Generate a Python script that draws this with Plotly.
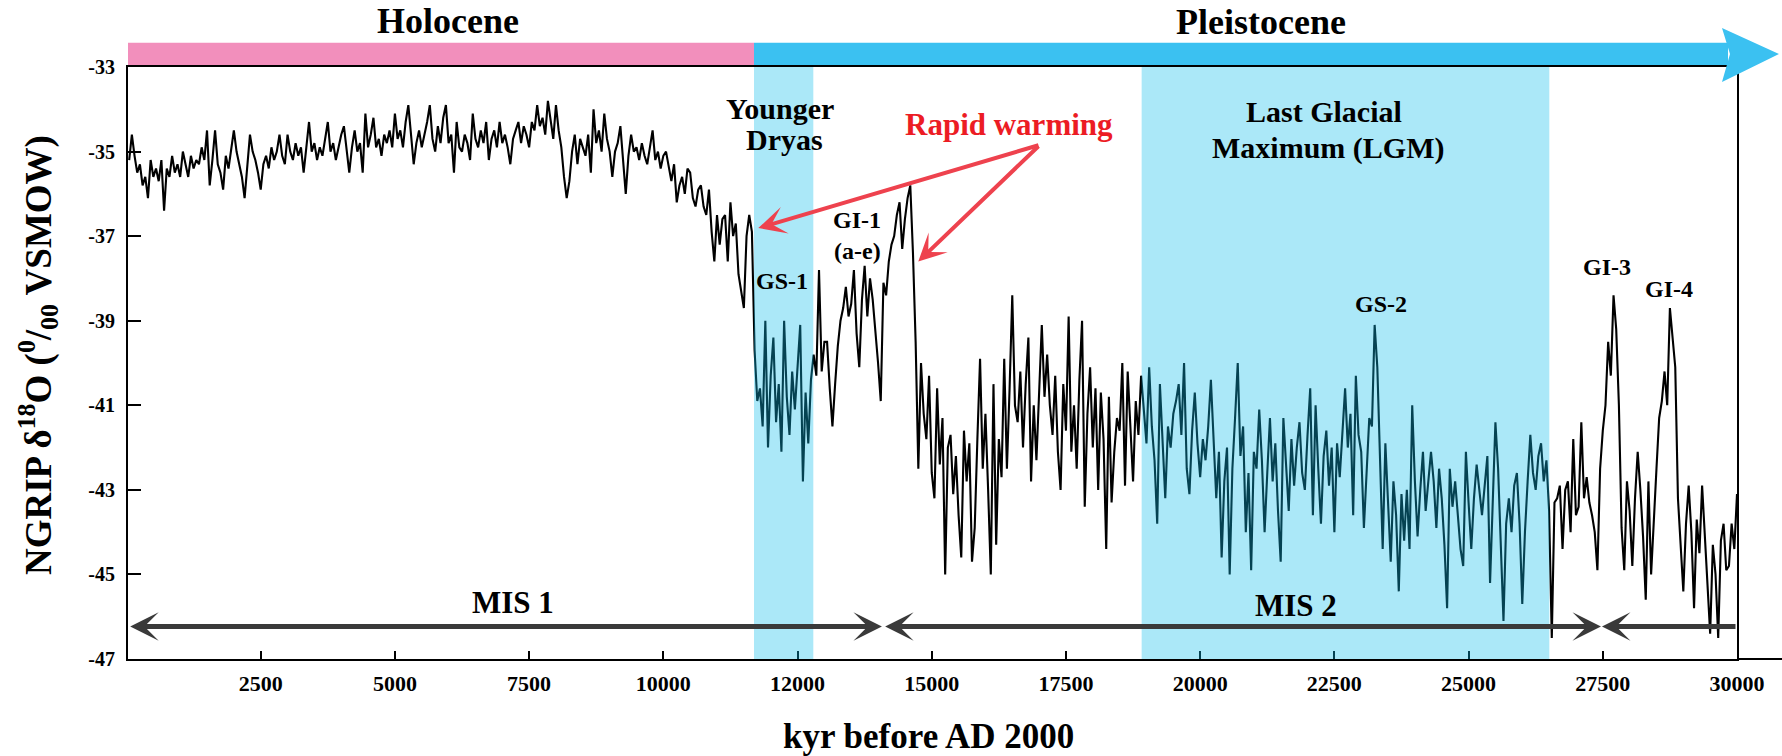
import plotly.graph_objects as go

# ---------------- data ----------------
AGE_START = 50      # years before AD 2000
AGE_STEP = 50

d18o_0_5k = [
    -35.2, -34.6, -35.1, -35.5, -35.3, -35.8, -35.6, -36.1, -35.2, -35.6, -35.4, -35.7, -35.2, -36.4, -35.4, -35.6, -35.1, -35.5, -35.3, -35.6,
    -35.0, -35.3, -35.6, -35.1, -35.4, -35.2, -35.3, -34.9, -35.2, -34.5, -35.8, -35.2, -34.5, -35.3, -35.5, -35.9, -35.1, -35.4, -34.9, -34.5,
    -35.0, -35.3, -35.6, -36.1, -35.4, -34.6, -35.0, -35.2, -35.5, -35.9, -35.3, -35.1, -35.4, -34.9, -35.2, -35.0, -34.6, -35.1, -35.3, -34.6,
    -35.0, -35.2, -34.8, -35.1, -34.9, -35.5, -34.9, -34.3, -35.0, -34.8, -35.2, -34.9, -35.1, -34.7, -34.3, -35.0, -34.8, -35.2, -34.9, -34.6,
    -34.4, -35.0, -35.5, -34.9, -34.5, -35.0, -34.8, -35.5, -34.1, -34.9, -34.6, -34.2, -34.9, -34.7, -35.1, -34.6, -34.8, -34.5, -34.9, -34.1,
]
d18o_5_10k = [
    -34.7, -34.5, -34.9, -34.3, -33.9, -34.6, -35.3, -34.8, -34.5, -34.9, -34.6, -34.3, -33.9, -34.7, -35.0, -34.4, -34.8, -34.2, -33.9, -34.8,
    -34.6, -35.5, -34.3, -34.9, -35.0, -34.6, -34.8, -35.2, -34.1, -34.7, -34.9, -34.5, -34.8, -34.3, -35.2, -34.7, -34.5, -34.9, -34.3, -34.8,
    -34.6, -34.9, -35.3, -34.7, -34.5, -34.3, -34.8, -34.4, -34.6, -34.9, -34.3, -34.5, -33.9, -34.4, -34.2, -34.6, -33.8, -34.3, -34.7, -33.9,
    -34.5, -34.9, -35.6, -36.1, -35.7, -35.0, -34.6, -35.3, -34.7, -34.9, -35.1, -34.6, -35.5, -34.0, -34.8, -34.5, -35.0, -34.1, -34.7, -35.0,
    -35.6, -35.0, -34.8, -34.4, -35.2, -36.0, -35.1, -34.6, -35.0, -34.9, -35.2, -34.8, -35.1, -35.3, -34.9, -34.5, -35.2, -35.0, -35.4, -35.1,
]
d18o_10_15k = [
    -35.0, -35.4, -35.7, -35.3, -36.2, -35.8, -35.6, -36.0, -35.4, -35.5, -36.1, -36.3, -35.9, -35.8, -36.3, -36.5, -35.9, -36.9, -37.6, -36.5,
    -37.2, -36.6, -36.5, -37.6, -36.2, -37.0, -36.7, -37.9, -38.3, -38.7, -37.0, -36.5, -36.9, -39.7, -40.9, -40.6, -41.5, -39.0, -42.0, -40.3,
    -39.4, -41.4, -40.5, -42.1, -39.0, -40.8, -41.7, -40.2, -41.1, -40.0, -39.1, -42.8, -40.7, -41.9, -40.4, -39.8, -40.3, -37.8, -40.2, -39.5,
    -39.5, -40.6, -41.5, -40.5, -39.6, -39.0, -38.7, -38.2, -38.9, -38.6, -37.8, -39.3, -40.1, -38.5, -37.7, -38.9, -38.0, -38.5, -39.2, -40.0,
    -40.9, -38.1, -38.4, -37.6, -37.2, -37.0, -36.5, -36.2, -37.3, -36.6, -36.1, -35.8, -37.4, -39.5, -42.5, -40.0, -41.2, -41.8, -40.3, -42.6,
]
d18o_15_20k = [
    -43.2, -40.6, -42.4, -41.3, -45.0, -42.0, -41.7, -43.1, -42.2, -43.6, -44.6, -41.6, -42.8, -41.9, -44.7, -43.9, -41.8, -39.9, -42.5, -41.2,
    -43.0, -45.0, -40.5, -44.3, -41.8, -42.7, -39.9, -42.5, -40.6, -38.4, -41.0, -41.4, -40.2, -42.0, -40.5, -39.4, -42.8, -41.0, -42.3, -40.6,
    -39.1, -40.8, -39.8, -41.0, -41.7, -40.3, -42.1, -43.0, -40.5, -41.6, -38.9, -42.1, -41.0, -42.5, -40.4, -39.0, -43.4, -41.2, -40.1, -42.0,
    -40.6, -43.0, -40.7, -41.8, -44.4, -40.8, -43.3, -42.1, -41.3, -41.6, -40.0, -42.9, -40.2, -41.5, -42.8, -40.9, -41.7, -40.3, -41.2, -41.9,
    -40.1, -41.5, -42.3, -43.8, -40.5, -41.8, -43.2, -41.5, -42.0, -41.2, -40.9, -40.5, -41.7, -40.0, -42.5, -43.1, -41.6, -40.7, -41.9, -42.7,
]
d18o_20_25k = [
    -41.8, -42.3, -41.5, -40.4, -42.0, -43.2, -42.1, -44.6, -42.8, -42.0, -45.0, -42.5, -41.3, -40.0, -42.2, -41.5, -44.0, -42.6, -44.9, -42.1,
    -42.5, -41.1, -42.3, -44.0, -42.6, -41.3, -42.8, -41.9, -43.5, -44.7, -41.3, -42.4, -43.5, -41.8, -42.9, -42.0, -41.4, -42.6, -43.0, -41.7,
    -40.6, -43.6, -41.0, -42.5, -43.8, -42.2, -41.6, -42.9, -42.0, -44.0, -41.9, -42.7, -41.5, -40.6, -42.0, -41.2, -43.6, -40.3, -41.7, -42.1,
    -43.9, -42.4, -41.3, -41.5, -39.1, -40.1, -42.6, -44.4, -41.9, -43.5, -44.7, -42.8, -43.6, -45.4, -43.1, -44.2, -43.0, -44.4, -41.0, -42.8,
    -44.1, -43.0, -42.1, -43.5, -42.7, -42.1, -42.8, -43.9, -42.5, -43.2, -44.3, -45.8, -42.5, -43.4, -42.8, -43.7, -44.4, -44.8, -42.1, -43.3,
]
d18o_25_30k = [
    -44.4, -43.2, -42.4, -43.0, -43.6, -42.9, -42.2, -45.2, -43.5, -41.4, -42.5, -44.4, -46.1, -43.8, -43.2, -44.0, -42.9, -42.6, -43.8, -45.7,
    -44.0, -42.8, -41.7, -42.6, -43.0, -42.2, -41.9, -42.8, -42.3, -43.5, -46.5, -43.3, -43.2, -42.9, -44.4, -43.0, -42.8, -44.0, -41.8, -43.6,
    -43.4, -41.4, -43.2, -42.7, -43.3, -43.6, -44.0, -44.9, -42.5, -41.6, -41.0, -39.5, -40.3, -38.4, -39.2, -41.0, -43.9, -44.9, -42.8, -43.5,
    -44.8, -43.2, -42.1, -43.0, -44.1, -45.6, -42.8, -45.0, -43.6, -42.5, -41.3, -40.9, -40.2, -41.0, -38.7, -39.4, -40.1, -43.2, -44.3, -45.4,
    -43.8, -42.9, -44.0, -45.8, -43.7, -44.5, -42.9, -44.0, -45.2, -46.4, -44.3, -45.0, -46.5, -44.2, -43.8, -44.9, -44.8, -43.8, -44.4, -43.1,
]

x_tickvals = [2500, 5000, 7500, 10000, 12500, 15000, 17500, 20000, 22500, 25000, 27500, 30000]
x_ticktext = ["2500", "5000", "7500", "10000", "12000", "15000", "17500", "20000", "22500", "25000", "27500", "30000"]
y_tickvals = [-33, -35, -37, -39, -41, -43, -45, -47]
y_ticktext = ["-33", "-35", "-37", "-39", "-41", "-43", "-45", "-47"]

younger_dryas = (11689, 12794)
lgm = (18910, 26504)
mis1 = (41, 14072)
mis2 = (14104, 27466)
mis3_start = (27485, 30000)
mis_level = -46.23
holocene_end = 11689

# ---------------- layout constants ----------------
W, H = 1782, 756
PL, PR, PT, PB = 128, 1737, 67, 659
X_RANGE = [28, 30000]
Y_RANGE = [-47, -33]
FONT = "Liberation Serif"


def pxx(px):
    return (px - PL) / (PR - PL)


def pxy(py):
    return (PB - py) / (PB - PT)


def xpaper(x):
    return (x - X_RANGE[0]) / (X_RANGE[1] - X_RANGE[0])


d18o = d18o_0_5k + d18o_5_10k + d18o_10_15k + d18o_15_20k + d18o_20_25k + d18o_25_30k
ages = [AGE_START + i * AGE_STEP for i in range(len(d18o))]

fig = go.Figure()
fig.add_trace(go.Scatter(x=ages, y=d18o, mode="lines",
                         line=dict(color="black", width=2.1), showlegend=False,
                         hoverinfo="x+y"))

shapes = []
# translucent bands over the record
for (a, b) in (younger_dryas, lgm):
    shapes.append(dict(type="rect", xref="x", yref="paper", x0=a, x1=b, y0=0, y1=1,
                       fillcolor="rgb(14,189,235)", opacity=0.35, line=dict(width=0),
                       layer="above"))

# top epoch bar: pink Holocene, blue Pleistocene arrow
bar_top, bar_bot = pxy(42.7), pxy(65)
shapes.append(dict(type="rect", xref="paper", yref="paper", x0=0, x1=xpaper(holocene_end),
                   y0=bar_bot, y1=bar_top, fillcolor="#F28FBC", line=dict(width=0)))
shapes.append(dict(type="rect", xref="paper", yref="paper", x0=xpaper(holocene_end), x1=pxx(1728),
                   y0=bar_bot, y1=bar_top, fillcolor="#3BC1F1", line=dict(width=0)))
head = "M {:.5f},{:.5f} L {:.5f},{:.5f} L {:.5f},{:.5f} L {:.5f},{:.5f} Z".format(
    pxx(1722), pxy(28), pxx(1779), pxy(54), pxx(1722), pxy(82), pxx(1730), pxy(54))
shapes.append(dict(type="path", xref="paper", yref="paper", path=head,
                   fillcolor="#3BC1F1", line=dict(width=0)))
# x axis line extending past the frame
shapes.append(dict(type="line", xref="paper", yref="paper", x0=1, x1=pxx(1782), y0=0, y1=0,
                   line=dict(color="black", width=2)))

annotations = []


def label(text, px, py, size, color="black", angle=0, bold=True):
    annotations.append(dict(text=("<b>%s</b>" % text) if bold else text,
                            x=pxx(px), y=pxy(py), xref="paper", yref="paper",
                            xanchor="center", yanchor="middle", showarrow=False,
                            textangle=angle,
                            font=dict(family=FONT, size=size, color=color)))


label("Holocene", 448, 21, 36)
label("Pleistocene", 1261, 22, 36)
label("Younger", 780, 108, 30)
label("Dryas", 784, 139, 30)
label("Rapid warming", 1009, 124, 31, color="rgb(236,28,36)")
label("Last Glacial", 1324, 111, 30)
label("Maximum (LGM)", 1328, 148, 30)
label("GI-1", 857, 220, 24)
label("(a-e)", 857, 251, 24)
label("GS-1", 782, 281, 24)
label("GS-2", 1381, 304, 24)
label("GI-3", 1607, 267, 24)
label("GI-4", 1669, 289, 24)
label("MIS 1", 513, 602, 31)
label("MIS 2", 1296, 605, 31)
label("kyr before AD 2000", 928, 736, 35)
label("NGRIP δ<sup>18</sup>O (<sup>0</sup>/<sub>00</sub> VSMOW)", 38, 355, 37, angle=-90)

# "Rapid warming" arrows (tail at common apex)
apex = (17016, -34.84)
for tip in ((11769, -36.81), (14749, -37.60)):
    annotations.append(dict(x=tip[0], y=tip[1], xref="x", yref="y",
                            ax=apex[0], ay=apex[1], axref="x", ayref="y",
                            text="", showarrow=True, arrowhead=3, arrowsize=1.15,
                            arrowwidth=4, arrowcolor="rgb(238,66,78)", standoff=0))

# MIS double arrows
for (a, b) in (mis1, mis2):
    annotations.append(dict(x=b, y=mis_level, xref="x", yref="y",
                            ax=a, ay=mis_level, axref="x", ayref="y",
                            text="", showarrow=True, arrowside="end+start",
                            arrowhead=3, startarrowhead=3, arrowsize=0.95, startarrowsize=0.95,
                            arrowwidth=5, arrowcolor="#3a3a3a", standoff=0, startstandoff=0))
annotations.append(dict(x=mis3_start[0], y=mis_level, xref="x", yref="y",
                        ax=mis3_start[1], ay=mis_level, axref="x", ayref="y",
                        text="", showarrow=True, arrowside="end",
                        arrowhead=3, arrowsize=0.95, arrowwidth=5, arrowcolor="#3a3a3a",
                        standoff=0))

fig.update_layout(
    width=W, height=H,
    margin=dict(l=PL, r=W - PR, t=PT, b=H - PB, pad=0),
    paper_bgcolor="white", plot_bgcolor="white",
    shapes=shapes, annotations=annotations,
    showlegend=False,
)
fig.update_xaxes(range=X_RANGE, tickmode="array", tickvals=x_tickvals,
                 ticktext=["<b>%s</b>" % t for t in x_ticktext],
                 ticks="inside", ticklen=8, tickwidth=2, tickcolor="black",
                 showline=True, linecolor="black", linewidth=2, mirror=True,
                 showgrid=False, zeroline=False, ticklabelstandoff=4,
                 tickfont=dict(family=FONT, size=22, color="black"))
fig.update_yaxes(range=Y_RANGE, tickmode="array", tickvals=y_tickvals,
                 ticktext=["<b>%s</b>" % t for t in y_ticktext],
                 ticks="inside", ticklen=13, tickwidth=2, tickcolor="black",
                 showline=True, linecolor="black", linewidth=2, mirror=True,
                 showgrid=False, zeroline=False, ticklabelstandoff=7,
                 tickfont=dict(family=FONT, size=20, color="black"))

fig.write_html("out.html")
